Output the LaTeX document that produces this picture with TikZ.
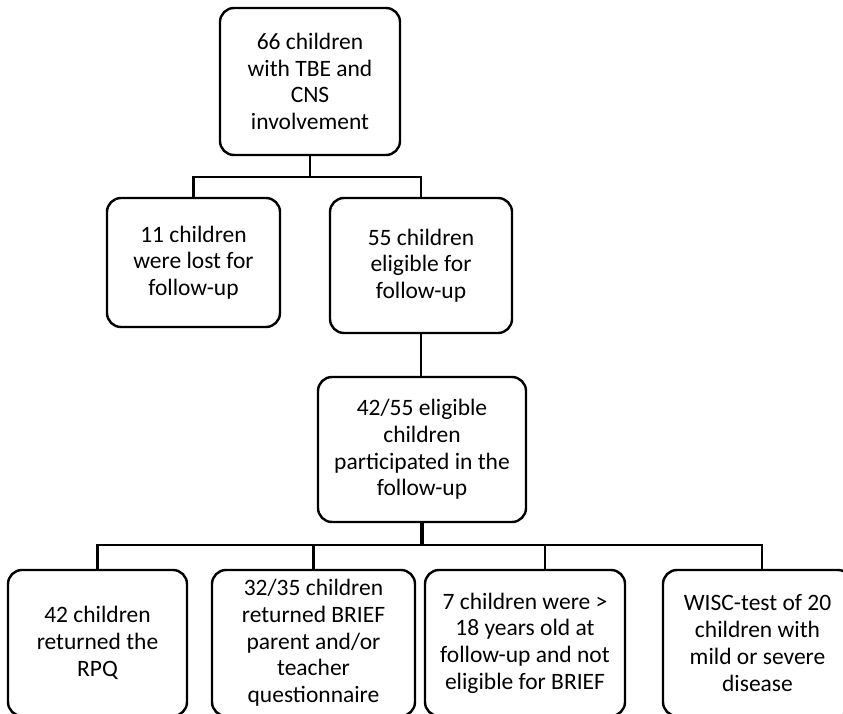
\documentclass[tikz,border=0pt]{standalone}
\usepackage{fontspec}
\setmainfont{Carlito}
\begin{document}
\begin{tikzpicture}[x=1pt,y=-1pt,
  box/.style={draw=black,line width=2.4pt,rounded corners=14pt,align=center,
    inner sep=0pt,font=\fontsize{23.5}{26.7}\selectfont},
  conn/.style={draw=black,line width=2.4pt},
  stub/.style={draw=black,line width=4.5pt}]
\useasboundingbox (0,0) rectangle (843,714);
\clip (0,0) rectangle (843,714);
\node[box,minimum width=180,minimum height=147] (top) at (310,81.5)
  {66 children\\with TBE and\\CNS\\involvement};
\node[box,minimum width=173,minimum height=129] (l) at (193.5,262.5)
  {11 children\\were lost for\\follow-up};
\node[box,minimum width=182,minimum height=135] (r) at (421,265.5)
  {55 children\\eligible for\\follow-up};
\node[box,minimum width=208,minimum height=145] (m) at (422,449.5)
  {42/55 eligible\\children\\participated in the\\follow-up};
\node[box,minimum width=179,minimum height=146] (b1) at (97.5,643)
  {42 children\\returned the\\RPQ};
\node[box,minimum width=203,minimum height=146] (b2) at (313.5,643)
  {32/35 children\\returned BRIEF\\parent and/or\\teacher\\questionnaire};
\node[box,minimum width=200,minimum height=146] (b3) at (525,643)
  {7 children were >\\18 years old at\\follow-up and not\\eligible for BRIEF};
\node[box,minimum width=189,minimum height=146] (b4) at (757.5,643)
  {WISC-test of 20\\children with\\mild or severe\\disease};
\coordinate (j1) at (309,177);
\coordinate (j2) at (420,545);
\coordinate (b3c) at (545,570);
\coordinate (b4c) at (762,570);
\draw[conn] (top.south) -- (top.south |- j1);
\draw[conn] (l.north) -- (l.north |- j1) -- (r.north |- j1) -- (r.north);
\draw[conn] (r.south) -- (r.south |- m.north);
\draw[stub] (m.south) -- (m.south |- j2);
\draw[conn] (b1.north) -- (b1.north |- j2) -- (b4c |- j2) -- (b4c);
\draw[conn] (b2.north |- j2) -- (b2.north);
\draw[conn] (b3c |- j2) -- (b3c);
\end{tikzpicture}
\end{document}
